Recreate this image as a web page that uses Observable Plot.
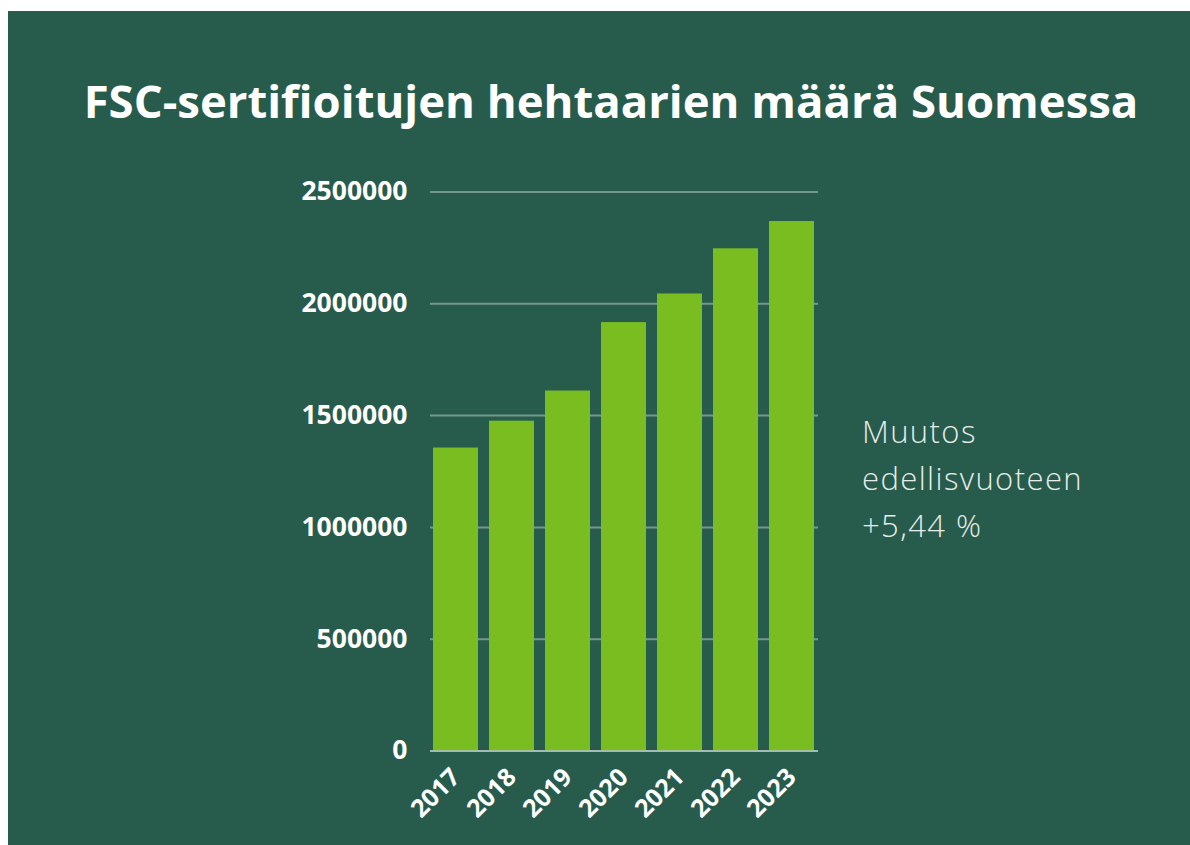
<!DOCTYPE html>
<html>
<head>
<meta charset="utf-8">
<script src="https://cdn.jsdelivr.net/npm/d3@7"></script>
<script src="https://cdn.jsdelivr.net/npm/@observablehq/plot@0.6"></script>
<style>
  html, body { margin: 0; padding: 0; background: #ffffff; width: 1190px; height: 845px; overflow: hidden; }
  #panel { position: absolute; left: 8px; top: 11px; width: 1182px; height: 834px; background: #275b4b; }
  #title { position: absolute; left: 0; top: 61px; width: 1206px; text-align: center; color: #ffffff;
           font-family: "Open Sans", sans-serif; font-weight: 700; font-size: 45.5px; letter-spacing: 0px; line-height: 56px; white-space: nowrap; }
  #chart { position: absolute; left: 0; top: 150px; }
  #note { position: absolute; left: 854px; top: 397px; color: #e6ece9; font-family: "Open Sans", sans-serif;
          font-weight: 300; font-size: 31px; letter-spacing: 1.4px; line-height: 47px; }
</style>
</head>
<body>
<div id="panel">
  <div id="title">FSC-sertifioitujen hehtaarien määrä Suomessa</div>
  <div id="chart"></div>
  <div id="note">Muutos<br>edellisvuoteen<br>+5,44 %</div>
</div>
<script>
const years = ["2017", "2018", "2019", "2020", "2021", "2022", "2023"];
const hectares = [1355000, 1475000, 1610000, 1916000, 2044000, 2246000, 2368000];
const yTicks = [0, 500000, 1000000, 1500000, 2000000, 2500000];

const data = years.map((y, i) => ({year: y, value: hectares[i]}));

const chart = Plot.plot({
  width: 1182,
  height: 684,
  marginLeft: 422,
  marginRight: 372,
  marginTop: 30.5,
  marginBottom: 94.5,
  style: {background: "transparent", color: "#ffffff", fontFamily: "Open Sans, sans-serif"},
  x: {domain: years, paddingInner: 0.19, paddingOuter: 0, label: null},
  y: {domain: [0, 2500000], ticks: yTicks, label: null},
  marks: [
    Plot.gridY(yTicks, {stroke: "#b8c9c3", strokeOpacity: 0.55, strokeWidth: 2}),
    Plot.barY(data, {x: "year", y: "value", fill: "#79bd21"}),
    Plot.ruleY([0], {stroke: "#b8c9c3", strokeOpacity: 0.7, strokeWidth: 2}),
    Plot.axisY(yTicks, {tickSize: 0, tickPadding: 23, tickFormat: d => String(d), fontSize: 26.5, fontWeight: 700, fill: "#ffffff"}),
    Plot.axisX({tickSize: 0, tickRotate: -45, tickPadding: 22, fontSize: 25, fontWeight: 700, fill: "#ffffff"})
  ]
});
document.getElementById("chart").appendChild(chart);
</script>
</body>
</html>
